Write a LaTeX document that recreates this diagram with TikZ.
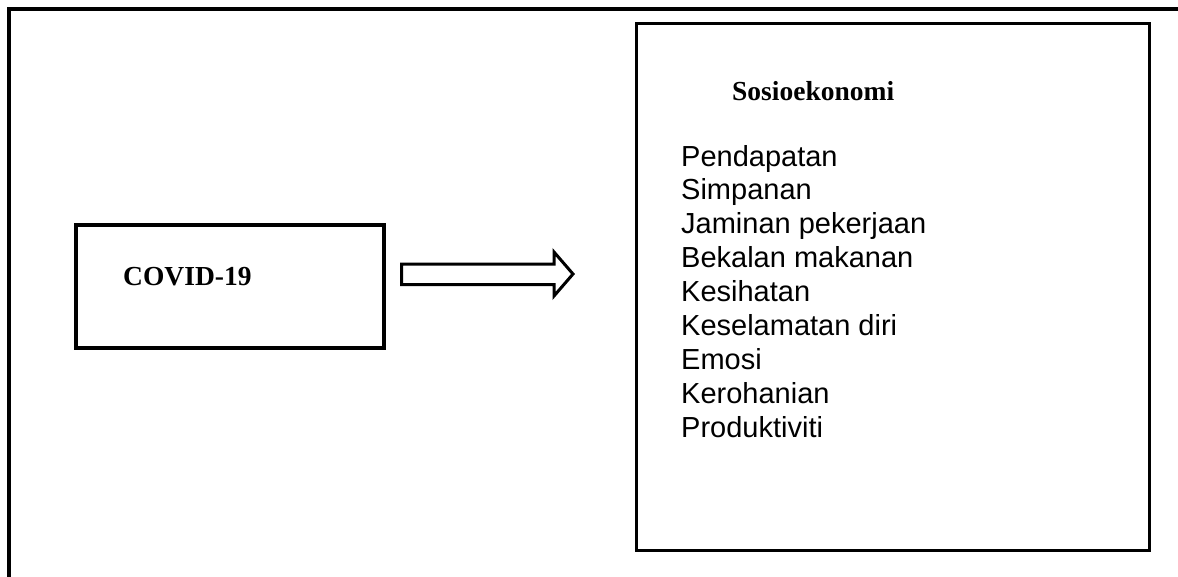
\documentclass[tikz,border=0pt]{standalone}
\usepackage{fontspec}
\setmainfont{Liberation Serif}
\newfontfamily\arialf{Liberation Sans}
\begin{document}
\begin{tikzpicture}[x=1pt,y=-1pt,
  box/.style={draw=black,line width=3.5pt,rectangle,inner sep=0pt,outer sep=0pt},
  titletext/.style={font=\fontsize{27.5}{32}\selectfont\bfseries,inner sep=0pt,anchor=base west},
  listtext/.style={font=\arialf\fontsize{29}{33.875}\selectfont,inner sep=0pt,anchor=base west,align=left},
  blockarrow/.style={draw=black,line width=3pt,fill=white,line join=miter}]
\useasboundingbox (0,0) rectangle (1178,576);
% outer frame (cut off at right and bottom)
\draw[line width=4pt,line join=miter] (9,590) -- (9,9) -- (1190,9);
% boxes
\node[box,minimum width=308pt,minimum height=123pt] (covid) at (230,286.5) {};
\node[box,line width=3pt,minimum width=513pt,minimum height=526.5pt] (socio) at (893,286.75) {};
% texts
\node[titletext] (covidt) at (123,285) {COVID-19};
\node[titletext] (sociot) at (732,100) {Sosioekonomi};
% multi-line node: base anchor is the last line's baseline
\node[listtext] (list) at (681,437) {Pendapatan\\Simpanan\\Jaminan pekerjaan\\Bekalan makanan\\Kesihatan\\Keselamatan diri\\Emosi\\Kerohanian\\Produktiviti};
% block arrow
\coordinate (as) at (401.5,274);
\coordinate (ae) at (573,274);
\draw[blockarrow] (as) ++(0,-10) -- (554,264) -- (554,252) -- (ae) -- (554,296) -- (554,284.5) -- (401.5,284.5) -- cycle;
\end{tikzpicture}
\end{document}
